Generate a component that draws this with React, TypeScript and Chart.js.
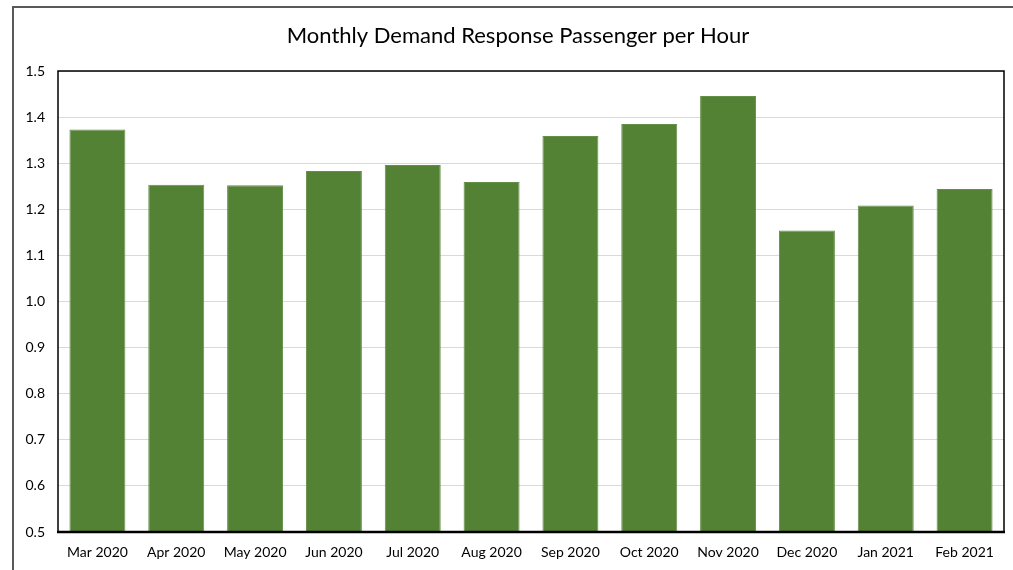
import React, { useEffect, useRef } from "react";
import { Chart, registerables } from "chart.js";

Chart.register(...registerables);

const months = ["Mar 2020", "Apr 2020", "May 2020", "Jun 2020", "Jul 2020", "Aug 2020", "Sep 2020", "Oct 2020", "Nov 2020", "Dec 2020", "Jan 2021", "Feb 2021"];
const passengersPerHour = [1.373, 1.253, 1.252, 1.283, 1.296, 1.259, 1.359, 1.385, 1.446, 1.154, 1.208, 1.244];
const titleText = "Monthly Demand Response Passenger per Hour";
const yMin = 0.5;
const yMax = 1.5;
const yStep = 0.1;

const FONT = "Lato, 'Open Sans', sans-serif";

const frame = {
  id: "frame",
  afterLayout(chart: any) {
    const t = chart.titleBlock;
    if (t) {
      t.left = 32;
    }
  },
  afterDatasetsDraw(chart: any) {
    const { ctx, chartArea } = chart;
    ctx.save();
    ctx.strokeStyle = "#000";
    ctx.lineWidth = 1.5;
    ctx.beginPath();
    ctx.moveTo(chartArea.left, chartArea.bottom);
    ctx.lineTo(chartArea.left, chartArea.top);
    ctx.lineTo(chartArea.right, chartArea.top);
    ctx.lineTo(chartArea.right, chartArea.bottom);
    ctx.stroke();
    ctx.lineWidth = 2.5;
    ctx.beginPath();
    ctx.moveTo(chartArea.left - 1, chartArea.bottom);
    ctx.lineTo(chartArea.right + 1, chartArea.bottom);
    ctx.stroke();
    ctx.restore();
  },
};

export default function App() {
  const ref = useRef<HTMLCanvasElement>(null);
  useEffect(() => {
    document.body.style.margin = "0";
    const chart = new Chart(ref.current!, {
      type: "bar",
      data: {
        labels: months,
        datasets: [
          {
            data: passengersPerHour,
            backgroundColor: "#548235",
            borderColor: "#638f48",
            borderWidth: 1,
            categoryPercentage: 1,
            barPercentage: 0.71,
          },
        ],
      },
      options: {
        animation: false,
        responsive: false,
        layout: { padding: { left: 0, right: 9, top: 0, bottom: 0 } },
        plugins: {
          legend: { display: false },
          tooltip: { enabled: false },
          title: {
            display: true,
            text: titleText,
            color: "#000",
            font: { family: FONT, size: 22, weight: "normal" },
            padding: { top: 23, bottom: 21.6 },
          },
        },
        scales: {
          x: {
            grid: { display: false, drawTicks: false },
            border: { display: false },
            ticks: { color: "#000", font: { family: FONT, size: 14 }, padding: 12, maxRotation: 0 },
            afterFit(scale: any) {
              scale.height = 38;
            },
          },
          y: {
            min: yMin,
            max: yMax,
            grid: { color: "#d9d9d9", lineWidth: 1, drawTicks: false },
            border: { display: false },
            ticks: {
              stepSize: yStep,
              color: "#000",
              font: { family: FONT, size: 14 },
              padding: 13,
              callback: (v: any) => Number(v).toFixed(1),
            },
            afterFit(scale: any) {
              scale.width = 58;
            },
          },
        },
      },
      plugins: [frame],
    });
    return () => chart.destroy();
  }, []);
  return (
    <div style={{ position: "relative", width: 1013, height: 570, overflow: "hidden", background: "#fff" }}>
      <canvas ref={ref} width={1013} height={570} style={{ display: "block" }} />
      <div
        style={{
          position: "absolute",
          left: 12,
          top: 6,
          width: 1100,
          height: 700,
          border: "2px solid #595959",
          pointerEvents: "none",
        }}
      />
    </div>
  );
}
